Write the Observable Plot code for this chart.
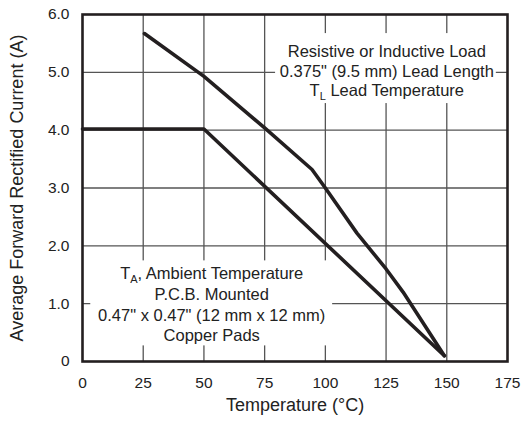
<!DOCTYPE html>
<html>
<head>
<meta charset="utf-8">
<script src="https://cdn.jsdelivr.net/npm/d3@7"></script>
<script src="https://cdn.jsdelivr.net/npm/@observablehq/plot@0.6"></script>
<style>
  html, body { margin: 0; padding: 0; background: #fff; }
  #chart { width: 522px; height: 423px; }
</style>
</head>
<body>
<div id="chart"></div>
<script>
// ---- data ----
const xTicks = [0, 25, 50, 75, 100, 125, 150, 175];
const yTicks = [0, 1, 2, 3, 4, 5, 6];
const yTickLabels = ["0", "1.0", "2.0", "3.0", "4.0", "5.0", "6.0"];
const gridXValues = [25, 50, 75, 100, 125, 150];
const gridYValues = [1, 2, 3, 4, 5];

// Lead temperature (TL) derating curve
const leadTemp = [25.5, 50, 75, 94.5, 100, 113, 125, 132, 149];
const leadCurrent = [5.67, 4.93, 4.04, 3.32, 3.0, 2.22, 1.6, 1.2, 0.1];

// Ambient temperature (TA) derating curve
const ambientTemp = [0, 50, 149];
const ambientCurrent = [4.02, 4.02, 0.1];

// annotations
const noteTexts = [
  "Resistive or Inductive Load\n0.375\" (9.5 mm) Lead Length\nT_L Lead Temperature",
  "T_A, Ambient Temperature\nP.C.B. Mounted\n0.47\" x 0.47\" (12 mm x 12 mm)\nCopper Pads"
];
const noteX = [125.3, 53.2];
const noteY = [5.03, 1.0];
const noteBoxX1 = [79.5, 3.4];
const noteBoxX2 = [170.4, 103.0];
const noteBoxY1 = [4.46, 0.27];
const noteBoxY2 = [5.67, 1.74];

const xLabel = "Temperature (°C)";
const yLabel = "Average Forward Rectified Current (A)";

// ---- build ----
const leadData = leadTemp.map((t, i) => ({t, a: leadCurrent[i]}));
const ambientData = ambientTemp.map((t, i) => ({t, a: ambientCurrent[i]}));
const boxes = noteTexts.map((_, i) => ({x1: noteBoxX1[i], x2: noteBoxX2[i], y1: noteBoxY1[i], y2: noteBoxY2[i]}));

const FONT = "'Liberation Sans', Arial, Helvetica, sans-serif";
const INK = "#231f20";

const chart = Plot.plot({
  width: 522,
  height: 423,
  marginLeft: 82,
  marginRight: 15,
  marginTop: 14,
  marginBottom: 62,
  style: {fontFamily: FONT, background: "#fff", color: "#222"},
  x: {domain: [0, 175], label: null},
  y: {domain: [0, 6], label: null},
  marks: [
    Plot.ruleX(gridXValues, {stroke: "#555", strokeWidth: 1.3}),
    Plot.ruleY(gridYValues, {stroke: "#555", strokeWidth: 1.3}),
    Plot.rect(boxes, {x1: "x1", x2: "x2", y1: "y1", y2: "y2", fill: "#fff"}),
    Plot.line(ambientData, {x: "t", y: "a", stroke: INK, strokeWidth: 3.6, strokeLinejoin: "miter"}),
    Plot.line(leadData, {x: "t", y: "a", stroke: INK, strokeWidth: 3.6, strokeLinejoin: "round"}),
    Plot.frame({stroke: INK, strokeWidth: 2.6}),
    Plot.axisX(xTicks, {tickSize: 0, tickPadding: 15, fontSize: 15.5, fill: "#222", label: null}),
    Plot.axisY(yTicks, {tickSize: 0, tickPadding: 13, fontSize: 15.5, fill: "#222", label: null,
      tickFormat: d => yTickLabels[yTicks.indexOf(d)]}),
    Plot.text([noteTexts[0]], {x: noteX[0], y: noteY[0], text: d => d, fontSize: 16.5, lineHeight: 1.18, fill: "#222"}),
    Plot.text([noteTexts[1]], {x: noteX[1], y: noteY[1], text: d => d, fontSize: 16.5, lineHeight: 1.25, fill: "#222"}),
    Plot.text([xLabel], {frameAnchor: "bottom", dy: 49, text: d => d, fontSize: 18, fill: "#222", textAnchor: "middle"}),
    Plot.text([yLabel], {frameAnchor: "left", dx: -65, rotate: -90, text: d => d, fontSize: 18, fill: "#222", textAnchor: "middle"})
  ]
});

// subscripts (T_L, T_A)
const ns = "http://www.w3.org/2000/svg";
chart.querySelectorAll("text, tspan").forEach(el => {
  if (el.childElementCount === 0 && el.textContent.startsWith("T_")) {
    const s = el.textContent;
    const sub = s[2];
    const rest = s.slice(3);
    el.textContent = "T";
    const t1 = document.createElementNS(ns, "tspan");
    t1.setAttribute("dy", "4");
    t1.setAttribute("font-size", "11");
    t1.textContent = sub;
    const t2 = document.createElementNS(ns, "tspan");
    t2.setAttribute("dy", "-4");
    t2.textContent = rest;
    el.append(t1, t2);
  }
});

document.getElementById("chart").appendChild(chart);
</script>
</body>
</html>
